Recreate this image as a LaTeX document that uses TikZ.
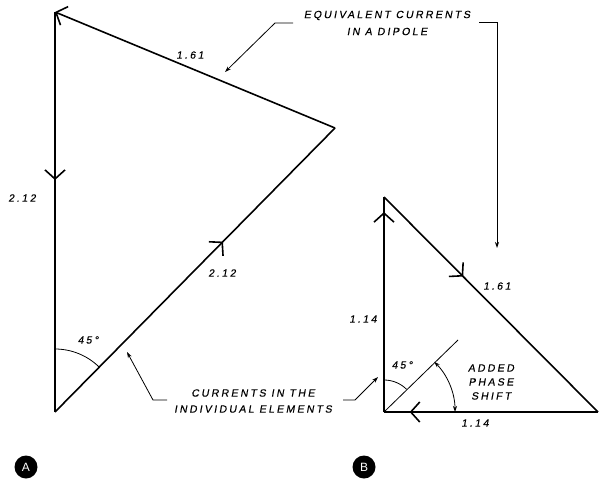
\documentclass[tikz,border=0pt]{standalone}
\usepackage{fontspec}
\newfontfamily\lab[LetterSpace=22,FakeSlant=0.18,FakeBold=0.4]{Liberation Sans}
\usetikzlibrary{arrows.meta,decorations.markings}
\tikzset{
  vec/.style={line width=1.6pt},
  thin line/.style={line width=0.8pt},
  midarrow/.style={postaction={decorate},decoration={markings,mark=at position #1 with {\arrow{Straight Barb[length=9pt,width=20pt]}}}},
  lead/.style={line width=0.8pt,-{Stealth[length=6pt,width=4pt]}},
  txt/.style={font=\lab\fontsize{10.5}{17}\selectfont,inner sep=0pt},
  badge/.style={circle,fill=black,text=white,minimum size=23pt,inner sep=0pt,font=\fontspec{Liberation Sans}\fontsize{12}{12}\selectfont}
}
\begin{document}
\begin{tikzpicture}[x=1pt,y=1pt]
\useasboundingbox (0,0) rectangle (605,-482);
% triangle A
\coordinate (At) at (55,-12);
\coordinate (Ar) at (335,-128);
\coordinate (Ab) at (55,-412);
\draw[vec,-{Straight Barb[length=9pt,width=20pt]}] (Ar) -- (At);
\draw[vec,midarrow=0.42] (At) -- (Ab);
\draw[vec,midarrow=0.6] (Ab) -- (Ar);
\draw[thin line] (Ab) ++(90:63pt) arc[start angle=90,end angle=45,radius=63pt];
\node[txt] (a161) at (190,-55) {1.61};
\node[txt] (a212l) at (22,-198) {2.12};
\node[txt] (a212d) at (222,-273) {2.12};
\node[txt] (a45) at (88,-340) {45°};
% triangle B
\coordinate (Bt) at (384,-197);
\coordinate (Bl) at (384,-412);
\coordinate (Br) at (598,-412);
\draw[vec,midarrow=0.93] (Bl) -- (Bt);
\draw[vec,midarrow=0.37] (Bt) -- (Br);
\draw[vec,midarrow=0.88] (Br) -- (Bl);
\coordinate (Bd) at (458,-340);
\draw[thin line] (Bl) -- (Bd);
\draw[thin line] (Bl) ++(90:32pt) arc[start angle=90,end angle=45,radius=32pt];
\draw[thin line,{Stealth[length=6pt,width=4pt]}-{Stealth[length=6pt,width=4pt]}] (Bl) ++(45:71pt) arc[start angle=45,end angle=0,radius=71pt];
\node[txt] (b114l) at (363,-319) {1.14};
\node[txt] (b161) at (497,-286) {1.61};
\node[txt] (b114b) at (475,-423) {1.14};
\node[txt] (b45) at (402,-365) {45°};
\node[txt,align=center,font=\lab\fontsize{10.5}{14}\selectfont] (phase) at (491,-382) {ADDED\\PHASE\\SHIFT};
% callouts
\node[txt,align=center] (eq) at (387,-23) {EQUIVALENT CURRENTS\\IN A DIPOLE};
\node[txt,align=center,font=\lab\fontsize{10.5}{16}\selectfont] (cur) at (253,-401) {CURRENTS IN THE\\INDIVIDUAL ELEMENTS};
\coordinate (eqL1) at (293,-23); \coordinate (eqL2) at (275,-23); \coordinate (eqLt) at (225,-72);
\coordinate (eqR1) at (479,-22); \coordinate (eqR2) at (497,-22); \coordinate (eqRt) at (497,-248);
\coordinate (cuL1) at (167,-400); \coordinate (cuL2) at (153,-400); \coordinate (cuLt) at (127,-352);
\coordinate (cuR1) at (343,-400); \coordinate (cuR2) at (355,-400); \coordinate (cuRt) at (378,-377);
\draw[lead] (eqL1) -- (eqL2) -- (eqLt);
\draw[lead] (eqR1) -- (eqR2) -- (eqRt);
\draw[lead] (cuL1) -- (cuL2) -- (cuLt);
\draw[lead] (cuR1) -- (cuR2) -- (cuRt);
% badges
\node[badge] (bA) at (26,-467) {A};
\node[badge] (bB) at (364,-467) {B};
\end{tikzpicture}
\end{document}
